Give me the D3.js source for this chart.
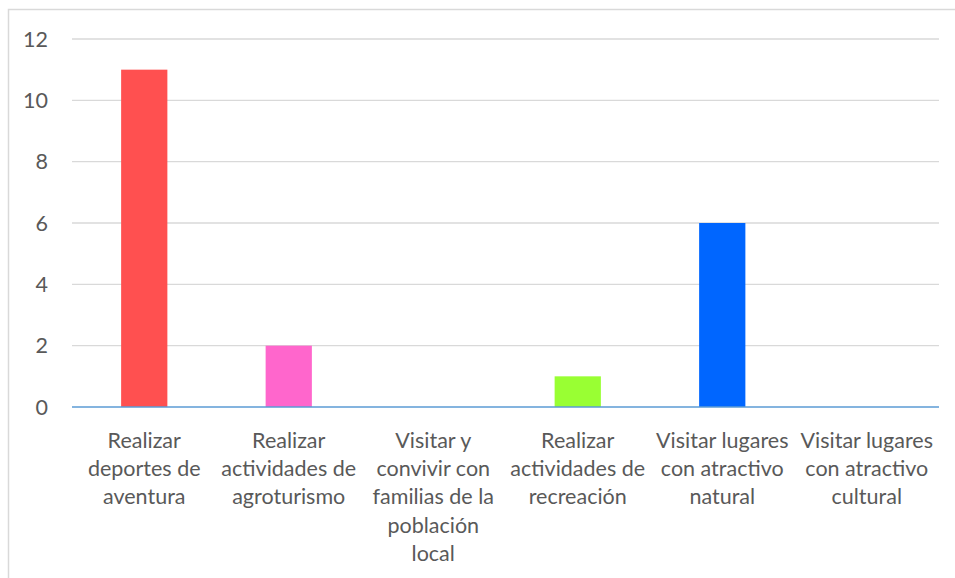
<!DOCTYPE html>
<html><head><meta charset="utf-8">
<script src="https://cdn.jsdelivr.net/npm/d3@7"></script>
<style>body{margin:0;background:#fff}svg{display:block}</style>
</head><body>
<script>
const categories = [
  ["Realizar","deportes de","aventura"],
  ["Realizar","actividades de","agroturismo"],
  ["Visitar y","convivir con","familias de la","población","local"],
  ["Realizar","actividades de","recreación"],
  ["Visitar lugares","con atractivo","natural"],
  ["Visitar lugares","con atractivo","cultural"]
];
const values = [11, 2, 0, 1, 6, 0];
const colors = ["#FF5050", "#FF66CC", "#FF66CC", "#99FF33", "#0066FF", "#0066FF"];
const yTicks = [0, 2, 4, 6, 8, 10, 12];

(function () {
const W = 955, H = 578;
const svg = d3.select("body").append("svg").attr("width", W).attr("height", H);
const font = "Lato, 'Open Sans', sans-serif";
const fs = 21.5;

svg.append("rect").attr("x", 8.5).attr("y", 9.5).attr("width", 960).attr("height", 600)
  .attr("fill", "none").attr("stroke", "#D9D9D9").attr("stroke-width", 1.5);

const pLeft = 72, pRight = 939, pTop = 39, pBottom = 407;
const x = d3.scaleBand().domain(d3.range(categories.length)).range([pLeft, pRight]).paddingInner(0.68).paddingOuter(0.34);
const y = d3.scaleLinear().domain([0, 12]).range([pBottom, pTop]);

svg.append("g").selectAll("line").data(yTicks.filter(d => d > 0)).join("line")
  .attr("x1", pLeft).attr("x2", pRight).attr("y1", d => y(d)).attr("y2", d => y(d))
  .attr("stroke", "#D9D9D9").attr("stroke-width", 1.3);

svg.append("g").selectAll("text").data(yTicks).join("text")
  .attr("x", 48).attr("y", d => y(d)).attr("dy", "0.35em").attr("text-anchor", "end")
  .attr("font-family", font).attr("font-size", fs).attr("fill", "#595959").text(d => d);

svg.append("g").selectAll("rect").data(values).join("rect")
  .attr("x", (d, i) => x(i)).attr("width", x.bandwidth())
  .attr("y", d => y(d)).attr("height", d => y(0) - y(d))
  .attr("fill", (d, i) => colors[i]);

svg.append("line").attr("x1", pLeft).attr("x2", pRight).attr("y1", y(0)).attr("y2", y(0))
  .attr("stroke", "#5B9BD5").attr("stroke-width", 1.5);

const band = x.step();
const lab = svg.append("g");
categories.forEach((lines, i) => {
  const cx = pLeft + band * i + band / 2;
  const t = lab.append("text").attr("text-anchor", "middle")
    .attr("font-family", font).attr("font-size", fs).attr("fill", "#595959");
  lines.forEach((l, j) => {
    t.append("tspan").attr("x", cx).attr("y", 440 + j * 28.4).attr("dy", "0.35em").text(l);
  });
});
})();
</script>
</body></html>
